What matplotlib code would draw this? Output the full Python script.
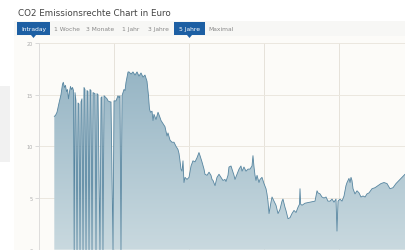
import numpy as np
import matplotlib.pyplot as plt
from matplotlib.patches import Rectangle, Polygon
from matplotlib.colors import LinearSegmentedColormap

# Datum als Dezimaljahr, Kurs in Euro
jahr = [2010.208, 2010.224, 2010.244, 2010.271, 2010.297, 2010.317, 2010.328, 2010.344,
        2010.357, 2010.371, 2010.384, 2010.397, 2010.411, 2010.424, 2010.437, 2010.451,
        2010.464, 2010.473, 2010.484, 2010.497, 2010.511, 2010.524, 2010.537, 2010.551,
        2010.564, 2010.577, 2010.591, 2010.604, 2010.617, 2010.631, 2010.644, 2010.657,
        2010.671, 2010.684, 2010.697, 2010.711, 2010.724, 2010.751, 2010.764, 2010.777,
        2010.791, 2010.817, 2010.831, 2010.844, 2010.857, 2010.871, 2010.884, 2010.911,
        2010.924, 2010.951, 2010.964, 2010.991, 2011.004, 2011.031, 2011.057, 2011.071,
        2011.084, 2011.097, 2011.111, 2011.137, 2011.151, 2011.164, 2011.191, 2011.204,
        2011.231, 2011.257, 2011.284, 2011.311, 2011.337, 2011.364, 2011.391, 2011.417,
        2011.444, 2011.464, 2011.477, 2011.491, 2011.511, 2011.524, 2011.537, 2011.564,
        2011.591, 2011.617, 2011.631, 2011.657, 2011.684, 2011.711, 2011.724, 2011.751,
        2011.777, 2011.804, 2011.831, 2011.857, 2011.871, 2011.884, 2011.897, 2011.911,
        2011.924, 2011.937, 2011.951, 2011.977, 2012.004, 2012.031, 2012.057, 2012.084,
        2012.111, 2012.137, 2012.151, 2012.177, 2012.204, 2012.217, 2012.244, 2012.271,
        2012.297, 2012.311, 2012.324, 2012.351, 2012.377, 2012.404, 2012.431, 2012.457,
        2012.484, 2012.497, 2012.524, 2012.537, 2012.564, 2012.591, 2012.604, 2012.617,
        2012.644, 2012.671, 2012.697, 2012.711, 2012.737, 2012.764, 2012.791, 2012.817,
        2012.844, 2012.857, 2012.871, 2012.884, 2012.897, 2012.911, 2012.937, 2012.951,
        2012.977, 2013.004, 2013.031, 2013.044, 2013.057, 2013.071, 2013.097, 2013.111,
        2013.137, 2013.164, 2013.191, 2013.217, 2013.244, 2013.257, 2013.284, 2013.297,
        2013.324, 2013.351, 2013.377, 2013.404, 2013.431, 2013.457, 2013.477, 2013.484,
        2013.493, 2013.511, 2013.551, 2013.617, 2013.684, 2013.711, 2013.724, 2013.751,
        2013.777, 2013.804, 2013.831, 2013.857, 2013.884, 2013.911, 2013.937, 2013.964,
        2013.977, 2013.991, 2014.017, 2014.044, 2014.071, 2014.097, 2014.111, 2014.137,
        2014.151, 2014.164, 2014.177, 2014.191, 2014.217, 2014.244, 2014.271, 2014.297,
        2014.324, 2014.351, 2014.377, 2014.404, 2014.444, 2014.484, 2014.524, 2014.564,
        2014.604, 2014.644, 2014.684, 2014.724, 2014.764, 2014.804, 2014.844, 2014.884,
        2014.924]
kurs = [12.9, 13.0, 13.3, 14.2, 15.0, 16.0, 16.2, 15.7,
        15.9, 15.3, 15.5, 14.6, 15.3, 15.8, 15.5, 15.7,
        15.4, 0.0, 15.2, 14.4, 0.0, 14.2, 14.1, 0.0,
        14.3, 14.6, 0.0, 15.7, 15.5, 0.0, 15.4, 15.3,
        0.0, 15.5, 15.4, 0.0, 15.2, 15.1, 0.0, 15.1,
        15.0, 0.0, 14.7, 14.8, 0.0, 14.9, 14.8, 14.6,
        14.4, 14.3, 14.3, 0.0, 14.4, 14.4, 14.9, 14.7,
        14.9, 0.0, 14.9, 15.5, 15.4, 16.2, 17.2, 17.2,
        17.0, 17.2, 16.9, 17.2, 16.8, 17.1, 16.7, 16.9,
        16.3, 14.9, 13.6, 13.3, 13.4, 12.5, 13.1, 12.6,
        13.3, 12.8, 12.5, 12.2, 11.9, 11.0, 11.3, 10.6,
        10.4, 10.4, 10.0, 9.7, 9.3, 8.6, 7.8, 7.6,
        8.6, 6.5, 7.0, 6.8, 7.0, 8.1, 8.6, 8.5,
        8.9, 9.4, 9.1, 8.5, 7.8, 7.3, 7.2, 7.5,
        7.2, 6.8, 6.7, 6.2, 7.0, 7.3, 7.0, 6.7,
        6.8, 6.6, 7.2, 8.0, 8.1, 7.5, 7.2, 6.8,
        7.3, 7.8, 8.1, 7.6, 8.0, 7.6, 7.8, 7.8,
        8.1, 9.1, 8.0, 7.2, 6.7, 7.2, 6.5, 6.8,
        7.0, 6.4, 5.9, 5.4, 4.7, 3.5, 4.6, 5.1,
        4.7, 4.3, 3.5, 3.9, 4.7, 4.9, 4.1, 3.8,
        3.0, 3.1, 3.5, 3.8, 3.6, 4.1, 4.4, 5.9,
        4.4, 4.3, 4.5, 4.6, 4.7, 5.7, 5.5, 5.4,
        5.1, 5.0, 5.1, 4.7, 4.7, 4.9, 4.6, 4.9,
        1.8, 4.7, 4.9, 4.7, 5.2, 6.2, 6.5, 6.9,
        6.5, 7.0, 6.7, 5.9, 5.4, 5.7, 5.5, 5.1,
        5.2, 5.1, 5.4, 5.5, 5.9, 6.0, 6.2, 6.4,
        6.5, 6.4, 5.9, 6.0, 6.4, 6.7, 7.0, 7.3,
        7.4]

y_ticks = [0, 5, 10, 15, 20]
jahres_linien = [2010, 2011, 2012, 2013, 2014, 2015]
tabs = ["Intraday", "1 Woche", "3 Monate", "1 Jahr", "3 Jahre", "5 Jahre", "Maximal"]
tab_x = [19, 54, 86, 122, 148, 176, 208]
aktiv = ["Intraday", "5 Jahre"]

W, H = 405, 251
fig = plt.figure(figsize=(W / 100, H / 100), dpi=100)
fig.patch.set_facecolor("white")

def fx(px):
    return px / W

def fy(py):
    return 1 - py / H

# Hintergrund
fig.add_artist(Rectangle((0, fy(163)), fx(10), (163 - 87) / H, transform=fig.transFigure,
                         facecolor="#f1f1f1", edgecolor="none", zorder=0))
fig.add_artist(Rectangle((fx(14), 0), 1, fy(22), transform=fig.transFigure,
                         facecolor="#fcfbf8", edgecolor="none", zorder=0))
fig.add_artist(Rectangle((fx(14), fy(37)), 1, 15 / H, transform=fig.transFigure,
                         facecolor="#f7f7f5", edgecolor="none", zorder=0))

fig.text(fx(18), fy(14), "CO2 Emissionsrechte Chart in Euro", fontsize=6.3,
         color="#444444", va="center", ha="left")

for name, x in zip(tabs, tab_x):
    if name in aktiv:
        breite = 33 if name == "Intraday" else 31
        x0 = x - 2
        fig.add_artist(Rectangle((fx(x0), fy(36)), fx(breite), 13 / H, transform=fig.transFigure,
                                 facecolor="#1d5fa3", edgecolor="none", zorder=3))
        mx = x0 + breite / 2
        fig.add_artist(Polygon([[fx(mx - 2.5), fy(36)], [fx(mx + 2.5), fy(36)], [fx(mx), fy(39)]],
                               closed=True, transform=fig.transFigure,
                               facecolor="#1d5fa3", edgecolor="none", zorder=3))
        fig.text(fx(mx), fy(29.5), name, fontsize=4.3, color="white",
                 ha="center", va="center", zorder=4)
    else:
        fig.text(fx(x), fy(29.5), name, fontsize=4.3, color="#888888",
                 ha="left", va="center", zorder=4)

# Diagramm
ax = fig.add_axes([fx(38.7), fy(250.7), fx(420 - 38.7), (250.7 - 44) / H])
ax.set_facecolor("none")
x_min, x_max = 2010, 2010 + (420 - 38.7) / 75
ax.set_xlim(x_min, x_max)
ax.set_ylim(0, 20)

for j in jahres_linien:
    ax.axvline(j, color="#e6e2da", lw=0.7, zorder=1)
for t in y_ticks[1:]:
    ax.axhline(t, color="#ebe7df", lw=0.7, zorder=1)

poly = ax.fill_between(jahr, kurs, 0, facecolor="none", edgecolor="none")
cmap = LinearSegmentedColormap.from_list("blau", ["#c9d9df", "#8fb0c1"])
grad = np.linspace(0, 1, 256).reshape(-1, 1)
im = ax.imshow(grad, extent=[x_min, x_max, 0, 20], origin="lower", aspect="auto",
               cmap=cmap, zorder=2)
im.set_clip_path(poly.get_paths()[0], transform=ax.transData)
ax.plot(jahr, kurs, color="#5685a0", lw=0.6, zorder=3)

ax.set_yticks(y_ticks)
ax.set_yticklabels([str(t) for t in y_ticks])
ax.set_xticks([])
ax.tick_params(axis="y", length=3, width=0.5, color="#cccccc", labelsize=3.5,
               labelcolor="#aaaaaa", pad=1)
for s in ["top", "right", "bottom"]:
    ax.spines[s].set_visible(False)
ax.spines["left"].set_color("#dddddd")
ax.spines["left"].set_linewidth(0.6)

fig.savefig("out.png", dpi=100)
